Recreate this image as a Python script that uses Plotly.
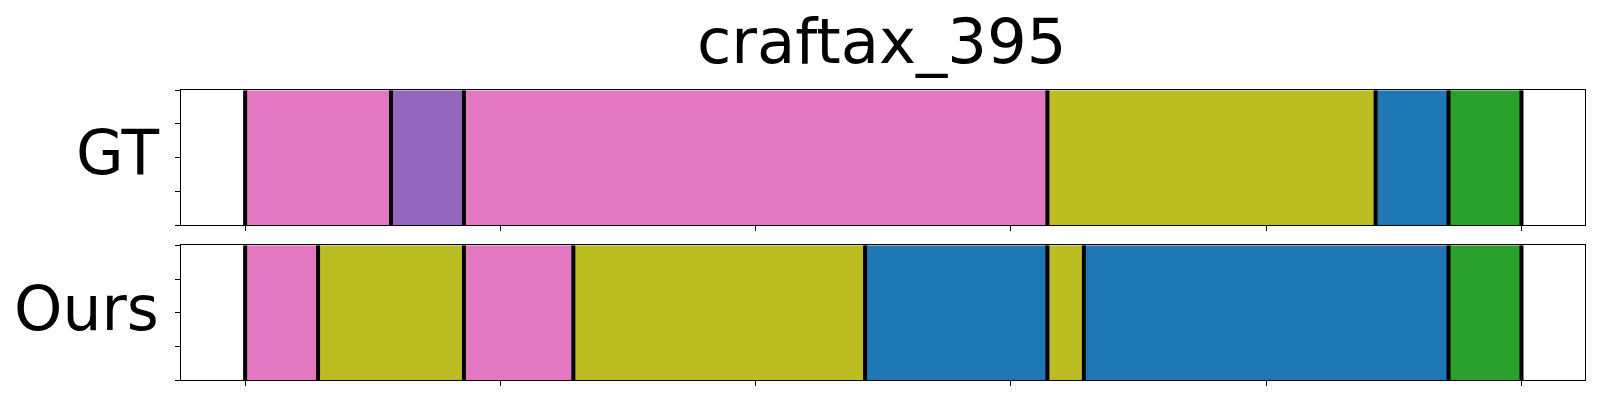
import plotly.graph_objects as go

title = "craftax_395"
row_labels = ["GT", "Ours"]
total_len = 35

gt_bounds = [0, 4, 6, 22, 31, 33, 35]
gt_colors = ["#e377c2", "#9467bd", "#e377c2", "#bcbd22", "#1f77b4", "#2ca02c"]

ours_bounds = [0, 2, 6, 9, 17, 22, 23, 33, 35]
ours_colors = ["#e377c2", "#bcbd22", "#e377c2", "#bcbd22", "#1f77b4", "#bcbd22", "#1f77b4", "#2ca02c"]

x_ticks = [0, 7, 14, 21, 28, 35]
y_ticks = [0, 0.25, 0.5, 0.75, 1.0]

fig = go.Figure()

rows = [(gt_bounds, gt_colors, "x", "y"), (ours_bounds, ours_colors, "x2", "y2")]
for bounds, colors, xa, ya in rows:
    starts = bounds[:-1]
    lengths = [b - a for a, b in zip(bounds[:-1], bounds[1:])]
    fig.add_trace(go.Bar(
        x=lengths, base=starts, y=[0.5] * len(lengths), orientation="h",
        width=1.0, marker=dict(color=colors, line=dict(width=0)),
        xaxis=xa, yaxis=ya, showlegend=False, hoverinfo="skip"))
    lx, ly = [], []
    for b in bounds:
        lx += [b, b, None]
        ly += [0, 1, None]
    fig.add_trace(go.Scatter(
        x=lx, y=ly, mode="lines", line=dict(color="black", width=4),
        xaxis=xa, yaxis=ya, showlegend=False, hoverinfo="skip"))

pad = 0.05 * total_len
axis_common = dict(showline=True, linecolor="black", linewidth=1.1, mirror=True,
                   ticks="outside", ticklen=5, tickwidth=1.1, tickcolor="black",
                   showticklabels=False, showgrid=False, zeroline=False)

x_dom = [181.3 / 1600, 1585.3 / 1600]
fig.update_layout(
    width=1600, height=400,
    margin=dict(l=0, r=0, t=0, b=0),
    plot_bgcolor="white", paper_bgcolor="white",
    barmode="overlay",
    xaxis=dict(domain=x_dom, range=[-pad, total_len + pad], tickvals=x_ticks, anchor="y", **axis_common),
    yaxis=dict(domain=[1 - 225 / 400, 1 - 90.3 / 400], range=[0, 1], tickvals=y_ticks, anchor="x", **axis_common),
    xaxis2=dict(domain=x_dom, range=[-pad, total_len + pad], tickvals=x_ticks, anchor="y2", **axis_common),
    yaxis2=dict(domain=[1 - 380.3 / 400, 1 - 245.3 / 400], range=[0, 1], tickvals=y_ticks, anchor="x2", **axis_common),
    font=dict(family="DejaVu Sans", color="black"),
)

fig.add_annotation(text=title, xref="paper", yref="paper", x=881.7 / 1600, y=1 - 41.5 / 400,
                   xanchor="center", yanchor="middle", showarrow=False,
                   font=dict(size=62.5, family="DejaVu Sans", color="black"))
fig.add_annotation(text=row_labels[0], xref="paper", yref="paper", x=160.5 / 1600, y=1 - 152.5 / 400,
                   xanchor="right", yanchor="middle", showarrow=False,
                   font=dict(size=61.5, family="DejaVu Sans", color="black"))
fig.add_annotation(text=row_labels[1], xref="paper", yref="paper", x=160.5 / 1600, y=1 - 308.5 / 400,
                   xanchor="right", yanchor="middle", showarrow=False,
                   font=dict(size=61.5, family="DejaVu Sans", color="black"))

fig.write_html("out.html", config={"displayModeBar": False},
               post_script="document.body.style.margin='0px';document.body.style.overflow='hidden';")
